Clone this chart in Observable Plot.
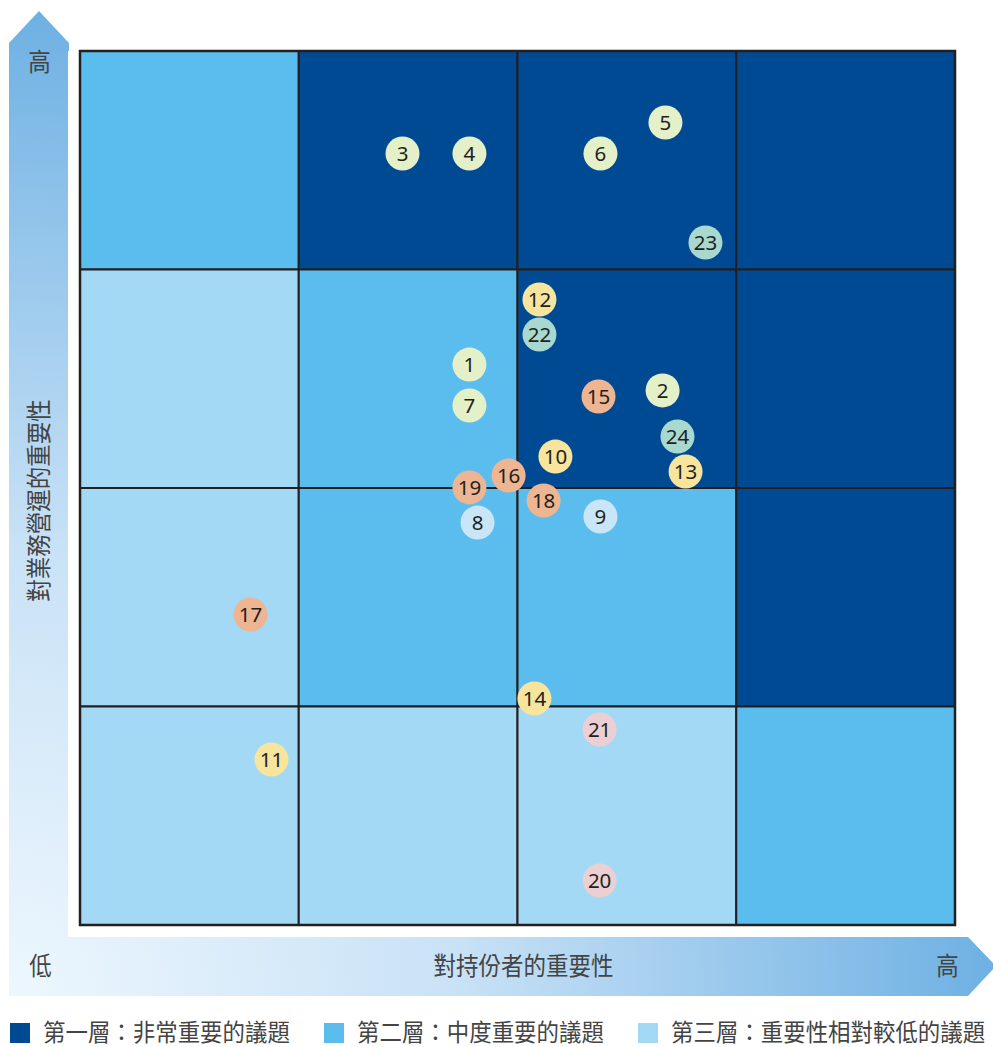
<!DOCTYPE html>
<html>
<head>
<meta charset="utf-8">
<script src="https://cdn.jsdelivr.net/npm/d3@7"></script>
<script src="https://cdn.jsdelivr.net/npm/@observablehq/plot@0.6"></script>
<style>
  html, body { margin: 0; padding: 0; background: #fff; }
  #chart { width: 993px; height: 1010px; }
  #legend { position: relative; width: 993px; height: 37px; font-family: "Noto Sans CJK TC", "Noto Sans", sans-serif; font-size: 24px; line-height: 24px; color: #444; }
  .sw { position: absolute; top: 13px; width: 20px; height: 20px; }
  .lab { position: absolute; top: 9px; white-space: nowrap; transform: scaleX(0.935); transform-origin: 0 50%; }
</style>
</head>
<body>
<div id="chart"></div>
<div id="legend"></div>
<script>
// Tier names (legend)
const tiers = ["第一層：非常重要的議題", "第二層：中度重要的議題", "第三層：重要性相對較低的議題"];
const tierColors = ["#004A93", "#5BBDED", "#A3D9F5"];

// Grid cells: column (0-3, stakeholder importance), row (0-3 from bottom, business importance), tier index
const cellCol = [0,1,2,3, 0,1,2,3, 0,1,2,3, 0,1,2,3];
const cellRow = [3,3,3,3, 2,2,2,2, 1,1,1,1, 0,0,0,0];
const cellTier = [1,0,0,0, 2,1,0,0, 2,1,1,0, 2,2,2,1];

// Issues: id, stakeholder importance (x), business importance (y), group
const issueIds = [1,2,3,4,5,6,7,8,9,10,11,12,13,14,15,16,17,18,19,20,21,22,23,24];
const issueX = [1.778,2.661,1.472,1.778,2.674,2.377,1.778,1.815,2.377,2.171,0.873,2.098,2.766,2.075,2.368,1.957,0.777,2.117,1.778,2.373,2.373,2.098,2.857,2.729];
const issueY = [2.567,2.449,3.533,3.533,3.675,3.533,2.380,1.844,1.872,2.146,0.760,2.865,2.078,1.039,2.421,2.059,1.423,1.945,2.005,0.206,0.897,2.705,3.126,2.238];
const issueGroup = ["g","g","g","g","g","g","g","b","b","y","y","y","y","y","s","s","s","s","s","p","p","t","t","t"];
const groupKeys = ["g","b","y","s","p","t"];
const groupColors = ["#E3F0C8","#C9E6F8","#F7E49D","#EDB592","#EBCFD3","#A8D8CF"];

// Axis labels
const yAxisLabel = "對業務營運的重要性";
const xAxisLabel = "對持份者的重要性";
const lowLabel = "低";
const highLabel = "高";

const cells = cellCol.map((c, i) => ({x1: c, x2: c + 1, y1: cellRow[i], y2: cellRow[i] + 1, tier: tiers[cellTier[i]]}));
const issues = issueIds.map((id, i) => ({id, x: issueX[i], y: issueY[i], group: issueGroup[i]}));

const W = 993, H = 1010;
const cjk = '"Noto Sans CJK TC", "Noto Sans", sans-serif';

// Background L-shaped double arrow (decoration) drawn in pixel space
function arrowMark(index, scales, values, dims) {
  const g = d3.create("svg:g");
  const defs = g.append("defs");
  const grad = defs.append("radialGradient")
    .attr("id", "arrowGrad").attr("gradientUnits", "userSpaceOnUse")
    .attr("cx", 9).attr("cy", 996).attr("r", 990);
  grad.append("stop").attr("offset", "0").attr("stop-color", "#EDF7FE");
  grad.append("stop").attr("offset", "0.45").attr("stop-color", "#C9E2F6");
  grad.append("stop").attr("offset", "1").attr("stop-color", "#6DB0E3");
  const pts = [[9,43],[39,11],[69,43],[69,937],[968,937],[996,966],[968,996],[9,996]];
  g.append("path").attr("d", "M" + pts.map(p => p.join(",")).join("L") + "Z").attr("fill", "url(#arrowGrad)");
  return g.node();
}

const labelStyle = {fontSize: 25, fill: "#444", fontFamily: cjk};

const chart = Plot.plot({
  width: W,
  height: H,
  marginLeft: 80,
  marginRight: W - 955,
  marginTop: 51,
  marginBottom: H - 925,
  x: {domain: [0, 4], axis: null},
  y: {domain: [0, 4], axis: null},
  color: {domain: tiers.concat(groupKeys), range: tierColors.concat(groupColors)},
  style: {background: "transparent", overflow: "visible"},
  marks: [
    arrowMark,
    Plot.rect([0], {x1: 0, x2: 4, y1: 0, y2: 4, fill: "#fff", inset: -12, insetRight: 0, insetTop: 0}),
    Plot.rect(cells, {x1: "x1", x2: "x2", y1: "y1", y2: "y2", fill: "tier", stroke: "#231F20", strokeWidth: 2}),
    Plot.rect([0], {x1: 0, x2: 4, y1: 0, y2: 4, fill: "none", stroke: "#231F20", strokeWidth: 2.5}),
    Plot.dot(issues, {x: "x", y: "y", r: 17, fill: "group", stroke: null}),
    Plot.text(issues, {x: "x", y: "y", text: "id", fontSize: 20.5, fill: "#231F20", fontFamily: '"Noto Sans", "Open Sans", sans-serif', dy: 1}),
    // axis labels on arrow
    Plot.text([highLabel], {x: 0, y: 4, text: d => d, dx: -41, dy: 11, ...labelStyle}),
    Plot.text([yAxisLabel], {x: 0, y: 2, text: d => d, dx: -41, dy: 12, rotate: -90, ...labelStyle}),
    Plot.text([lowLabel], {x: 0, y: 0, text: d => d, dx: -40, dy: 41, ...labelStyle}),
    Plot.text([xAxisLabel], {x: 2, y: 0, text: d => d, dx: 5.5, dy: 41, ...labelStyle}),
    Plot.text([highLabel], {x: 4, y: 0, text: d => d, dx: -8, dy: 41, ...labelStyle})
  ]
});
// condense the CJK label glyphs horizontally, like the reference typeface
d3.select(chart).selectAll("text").each(function() {
  const t = this.textContent;
  if ([yAxisLabel, xAxisLabel, lowLabel, highLabel].includes(t)) {
    const tr = this.getAttribute("transform") || "";
    this.setAttribute("transform", tr + " scale(0.9,1)");
  }
});
document.getElementById("chart").appendChild(chart);

// Legend below the chart
const legend = document.getElementById("legend");
const legendX = [10, 324, 638];
tiers.forEach((t, i) => {
  const sw = document.createElement("div");
  sw.className = "sw";
  sw.style.left = legendX[i] + "px";
  sw.style.background = tierColors[i];
  const lab = document.createElement("div");
  lab.className = "lab";
  lab.style.left = (legendX[i] + 33) + "px";
  lab.textContent = t;
  legend.appendChild(sw);
  legend.appendChild(lab);
});
</script>
</body>
</html>
